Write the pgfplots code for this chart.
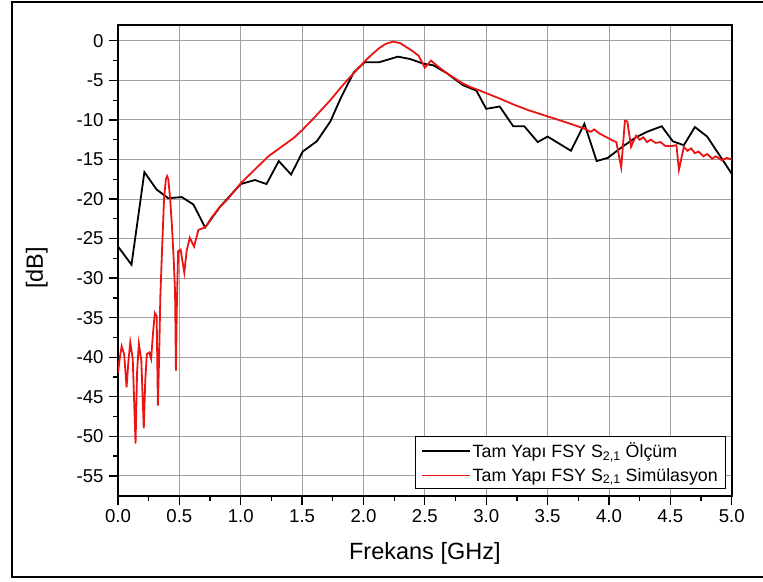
\documentclass[border=0pt]{standalone}
\usepackage{fontspec}
\setmainfont{Liberation Sans}
\usepackage{pgfplots}
\pgfplotsset{compat=1.18}
\definecolor{simred}{RGB}{235,20,20}
\definecolor{gridgray}{RGB}{160,160,160}
\begin{document}
\begin{tikzpicture}
\useasboundingbox (-118pt,-85.3pt) rectangle (645pt,495.7pt);
\draw[line width=1.5pt] (-106pt,-81.3pt) rectangle (670pt,493.7pt);
\begin{axis}[
  scale only axis,
  width=613.7pt, height=470.7pt,
  at={(0pt,0pt)}, anchor=south west,
  xmin=0, xmax=5, ymin=-57.5, ymax=2,
  xtick={0,0.5,...,5.0},
  ytick={-55,-50,...,0},
  minor x tick num=1, minor y tick num=1,
  grid=major,
  major grid style={gridgray, line width=0.9pt},
  tick pos=left,
  tick align=outside,
  major tick length=9pt, minor tick length=5pt,
  every tick/.style={black, line width=1.3pt},
  axis line style={black, line width=1.8pt},
  /pgf/number format/assume math mode=true,
  xticklabel style={/pgf/number format/fixed, /pgf/number format/fixed zerofill, /pgf/number format/precision=1, yshift=-1pt},
  yticklabel style={/pgf/number format/fixed, /pgf/number format/precision=0, xshift=-2pt},
  ticklabel style={font=\fontsize{18.6}{22}\selectfont},
  xlabel={Frekans [GHz]},
  ylabel={[dB]},
  label style={font=\fontsize{23.5}{28}\selectfont},
  xlabel style={at={(axis description cs:0.5,-0.1217)}, anchor=center},
  ylabel style={at={(axis description cs:-0.1325,0.484)}, anchor=center, rotate=0},
  legend cell align=left,
  legend image code/.code={\draw[#1, line width=1.5pt] (0pt,0pt) -- (48pt,0pt);},
  legend style={at={(0.991,0.0142)}, anchor=south east, draw=black,
    line width=0.9pt, font=\fontsize{17.8}{21}\selectfont,
    inner xsep=6pt, inner ysep=4pt, row sep=5pt},
]
\addplot[black, line width=1.8pt] coordinates {
(0.00,-26.0) (0.11,-28.3) (0.215,-16.6) (0.315,-18.8) (0.41,-19.9)
(0.52,-19.75) (0.615,-20.7) (0.71,-23.6) (0.83,-21.0) (1.00,-18.1)
(1.115,-17.6) (1.21,-18.1) (1.31,-15.2) (1.41,-16.9)
(1.505,-14.0) (1.62,-12.7) (1.73,-10.2) (1.81,-7.4) (1.92,-4.0)
(2.01,-2.7) (2.13,-2.7) (2.28,-2.0) (2.38,-2.3) (2.49,-2.9)
(2.57,-3.1) (2.68,-4.1) (2.81,-5.6) (2.92,-6.3) (3.00,-8.6)
(3.11,-8.3) (3.22,-10.8) (3.31,-10.8) (3.42,-12.8) (3.50,-12.1)
(3.69,-13.9) (3.80,-10.5) (3.90,-15.2) (3.99,-14.8) (4.10,-13.5)
(4.22,-12.2) (4.31,-11.5) (4.43,-10.8) (4.52,-12.7) (4.61,-13.2)
(4.70,-10.9) (4.80,-12.1) (5.00,-16.8)
};
\addlegendentry{Tam Yapı FSY S\textsubscript{2,1} Ölçüm}
\addplot[simred, line width=1.8pt] coordinates {
(0.00,-42.0) (0.015,-40.0) (0.03,-38.6) (0.05,-39.6) (0.07,-43.8)
(0.085,-40.5) (0.10,-38.1) (0.12,-40.2) (0.143,-50.9) (0.155,-42.0)
(0.17,-38.3) (0.19,-40.4) (0.21,-49.0) (0.222,-43.0) (0.235,-39.6)
(0.255,-39.4) (0.27,-40.2) (0.285,-37.0) (0.30,-34.4) (0.315,-34.8)
(0.325,-46.1) (0.335,-40.0) (0.345,-32.3) (0.36,-26.0) (0.375,-20.0)
(0.39,-17.5) (0.40,-17.1) (0.41,-17.5) (0.425,-20.0) (0.44,-23.5)
(0.455,-28.0) (0.465,-31.8) (0.472,-41.7) (0.48,-33.0) (0.49,-26.6)
(0.51,-26.4) (0.54,-29.3) (0.56,-26.5) (0.585,-24.9) (0.62,-26.0)
(0.655,-23.9) (0.69,-23.7) (0.72,-23.4) (0.76,-22.4) (0.83,-21.0)
(0.90,-19.9) (1.00,-18.0) (1.10,-16.5) (1.225,-14.6) (1.35,-13.2)
(1.43,-12.3) (1.50,-11.3) (1.60,-9.7) (1.73,-7.5) (1.81,-6.0)
(1.89,-4.6) (1.95,-3.6) (2.01,-2.6) (2.07,-1.7) (2.13,-0.9)
(2.18,-0.4) (2.24,-0.1) (2.30,-0.3) (2.35,-0.8) (2.40,-1.3)
(2.45,-1.9) (2.50,-3.4) (2.55,-2.5) (2.62,-3.4) (2.68,-4.1)
(2.75,-4.8) (2.81,-5.4) (2.88,-5.9) (2.95,-6.3) (3.03,-6.8)
(3.11,-7.3) (3.23,-8.1) (3.35,-8.8) (3.49,-9.5) (3.65,-10.3)
(3.80,-11.1) (3.85,-11.5) (3.88,-11.2) (3.92,-11.7) (3.97,-12.1)
(4.03,-12.6) (4.06,-12.8)
(4.10,-16.0) (4.13,-10.1) (4.15,-10.2) (4.18,-13.4) (4.22,-12.0)
(4.25,-12.5) (4.28,-12.2) (4.31,-12.8) (4.34,-12.5) (4.38,-12.9)
(4.42,-12.8) (4.46,-13.3) (4.51,-13.3) (4.55,-13.2) (4.57,-16.3)
(4.61,-13.4) (4.64,-13.9) (4.67,-13.6) (4.70,-14.2) (4.73,-14.0)
(4.77,-14.6) (4.80,-14.3) (4.84,-14.9) (4.87,-14.6) (4.92,-15.1)
(4.96,-14.8) (5.00,-15.0)
};
\addlegendentry{Tam Yapı FSY S\textsubscript{2,1} Simülasyon}
\end{axis}
\end{tikzpicture}
\end{document}
